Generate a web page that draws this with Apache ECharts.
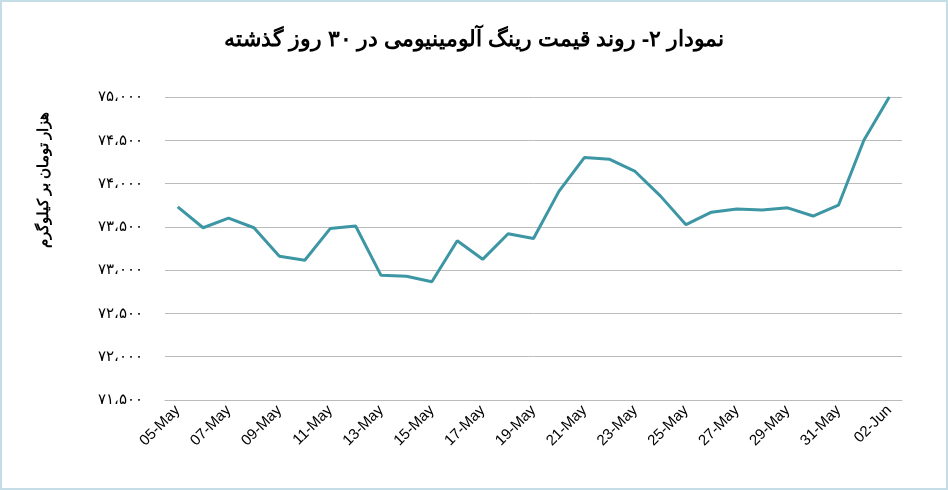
<!DOCTYPE html>
<html><head><meta charset="utf-8">
<script src="https://cdn.jsdelivr.net/npm/echarts@6/dist/echarts.min.js"></script>
<style>html,body{margin:0;padding:0;background:#fff}#c{width:948px;height:490px;box-sizing:border-box;border:2px solid #c5dde6}</style>
</head><body><div id="c"></div>
<script>
const categories=['05-May','06-May','07-May','08-May','09-May','10-May','11-May','12-May','13-May','14-May','15-May','16-May','17-May','18-May','19-May','20-May','21-May','22-May','23-May','24-May','25-May','26-May','27-May','28-May','29-May','30-May','31-May','01-Jun','02-Jun'];
const prices=[73730,73490,73600,73490,73160,73115,73480,73510,72940,72930,72865,73340,73125,73420,73365,73910,74300,74280,74140,73855,73525,73670,73705,73695,73720,73625,73750,74500,75000];
const title='نمودار ۲- روند قیمت رینگ آلومینیومی در ۳۰ روز گذشته';
const yName='هزار تومان بر کیلوگرم';
const fa=s=>String(s).replace(/\d/g,d=>'۰۱۲۳۴۵۶۷۸۹'[d]);
const chart=echarts.init(document.getElementById('c'));
chart.setOption({
 title:{text:title,left:'center',top:22,textStyle:{fontFamily:'Noto Sans',fontSize:22,fontWeight:'bold',color:'#000'}},
 grid:{left:163,right:44,top:95,bottom:88},
 graphic:[{type:'text',x:42,y:178,rotation:Math.PI/2,style:{text:yName,font:'bold 15px "Noto Sans"',fill:'#000',align:'center',verticalAlign:'middle'}}],
 xAxis:{type:'category',data:categories,boundaryGap:true,
  axisLine:{lineStyle:{color:'#bbb'}},axisTick:{show:false},
  axisLabel:{interval:1,rotate:45,fontFamily:'Liberation Sans',fontSize:15,color:'#000',margin:8}},
 yAxis:{type:'value',min:71500,max:75000,interval:500,
  axisLabel:{formatter:v=>{const k=Math.floor(v/1000),r=v%1000;return fa(k)+'،'+fa(String(r).padStart(3,'0'));},fontFamily:'Noto Sans',fontSize:15,color:'#000',margin:22},
  splitLine:{lineStyle:{color:'#bcbcbc'}},axisLine:{show:false}},
 series:[{type:'line',data:prices,symbol:'none',lineStyle:{color:'#3c96a4',width:3}}]
});
</script></body></html>
